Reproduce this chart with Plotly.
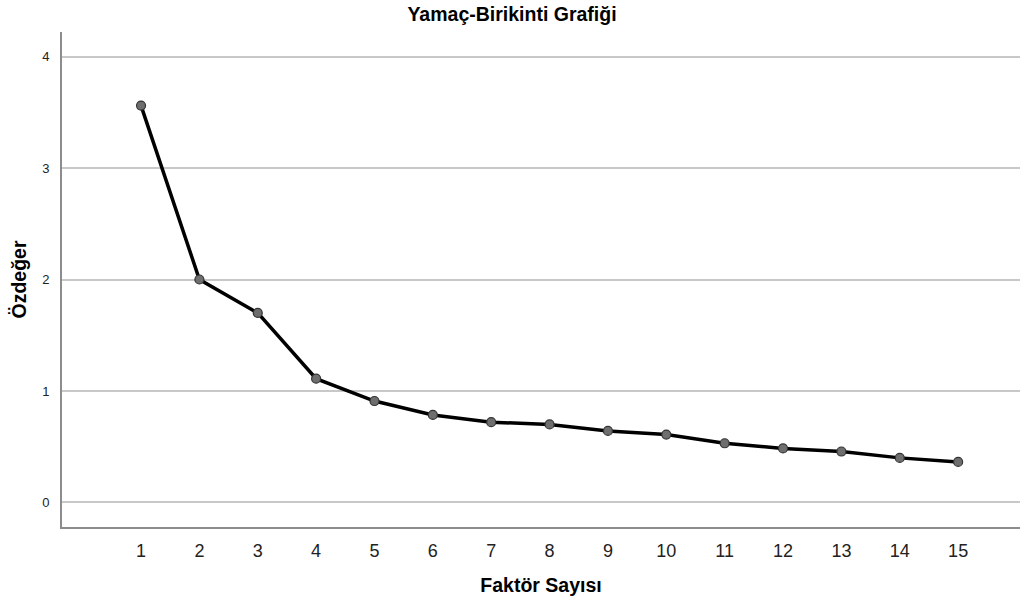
import plotly.graph_objects as go

# Scree plot: eigenvalue per factor number
factors = list(range(1, 16))
eigenvalues = [3.56, 2.00, 1.70, 1.11, 0.91, 0.785, 0.72, 0.70, 0.642, 0.609,
               0.531, 0.485, 0.457, 0.40, 0.364]
y_ticks = [0, 1, 2, 3, 4]

FONT = "Liberation Sans, Arial, sans-serif"

fig = go.Figure()
fig.add_trace(go.Scatter(
    x=factors,
    y=eigenvalues,
    mode="lines+markers",
    line=dict(color="black", width=3.5),
    marker=dict(size=9, color="#6e6e6e", line=dict(color="#333333", width=1.2)),
    showlegend=False,
    hoverinfo="x+y",
))

fig.update_layout(
    width=1024,
    height=601,
    margin=dict(l=62, r=4, t=32, b=74),
    paper_bgcolor="white",
    plot_bgcolor="white",
    title=dict(
        text="<b>Yamaç-Birikinti Grafiği</b>",
        x=0.5, xanchor="center",
        y=0.977, yanchor="middle",
        font=dict(family=FONT, size=19.5, color="black"),
    ),
    font=dict(family=FONT, color="black"),
)

fig.update_xaxes(
    range=[-0.354, 16.06],
    tickmode="array",
    tickvals=factors,
    ticktext=[str(f) for f in factors],
    tickfont=dict(family=FONT, size=18, color="#222222"),
    showgrid=False,
    zeroline=False,
    showline=True,
    linecolor="#8c8c8c",
    linewidth=2,
    ticks="",
    ticklabelstandoff=6,
    title=dict(text="<b>Faktör Sayısı</b>", font=dict(family=FONT, size=19.5, color="black"),
               standoff=19),
)

fig.update_yaxes(
    range=[-0.22, 4.22],
    tickmode="array",
    tickvals=y_ticks,
    ticktext=[str(v) for v in y_ticks],
    tickfont=dict(family=FONT, size=13, color="#222222"),
    showgrid=True,
    gridcolor="#c8c8c8",
    gridwidth=1.5,
    zeroline=False,
    showline=True,
    linecolor="#8c8c8c",
    linewidth=2,
    ticks="",
    ticklabelstandoff=8,
    title=dict(text="<b>Özdeğer</b>", font=dict(family=FONT, size=19.5, color="black"),
               standoff=10),
)

fig.write_html("out.html")
